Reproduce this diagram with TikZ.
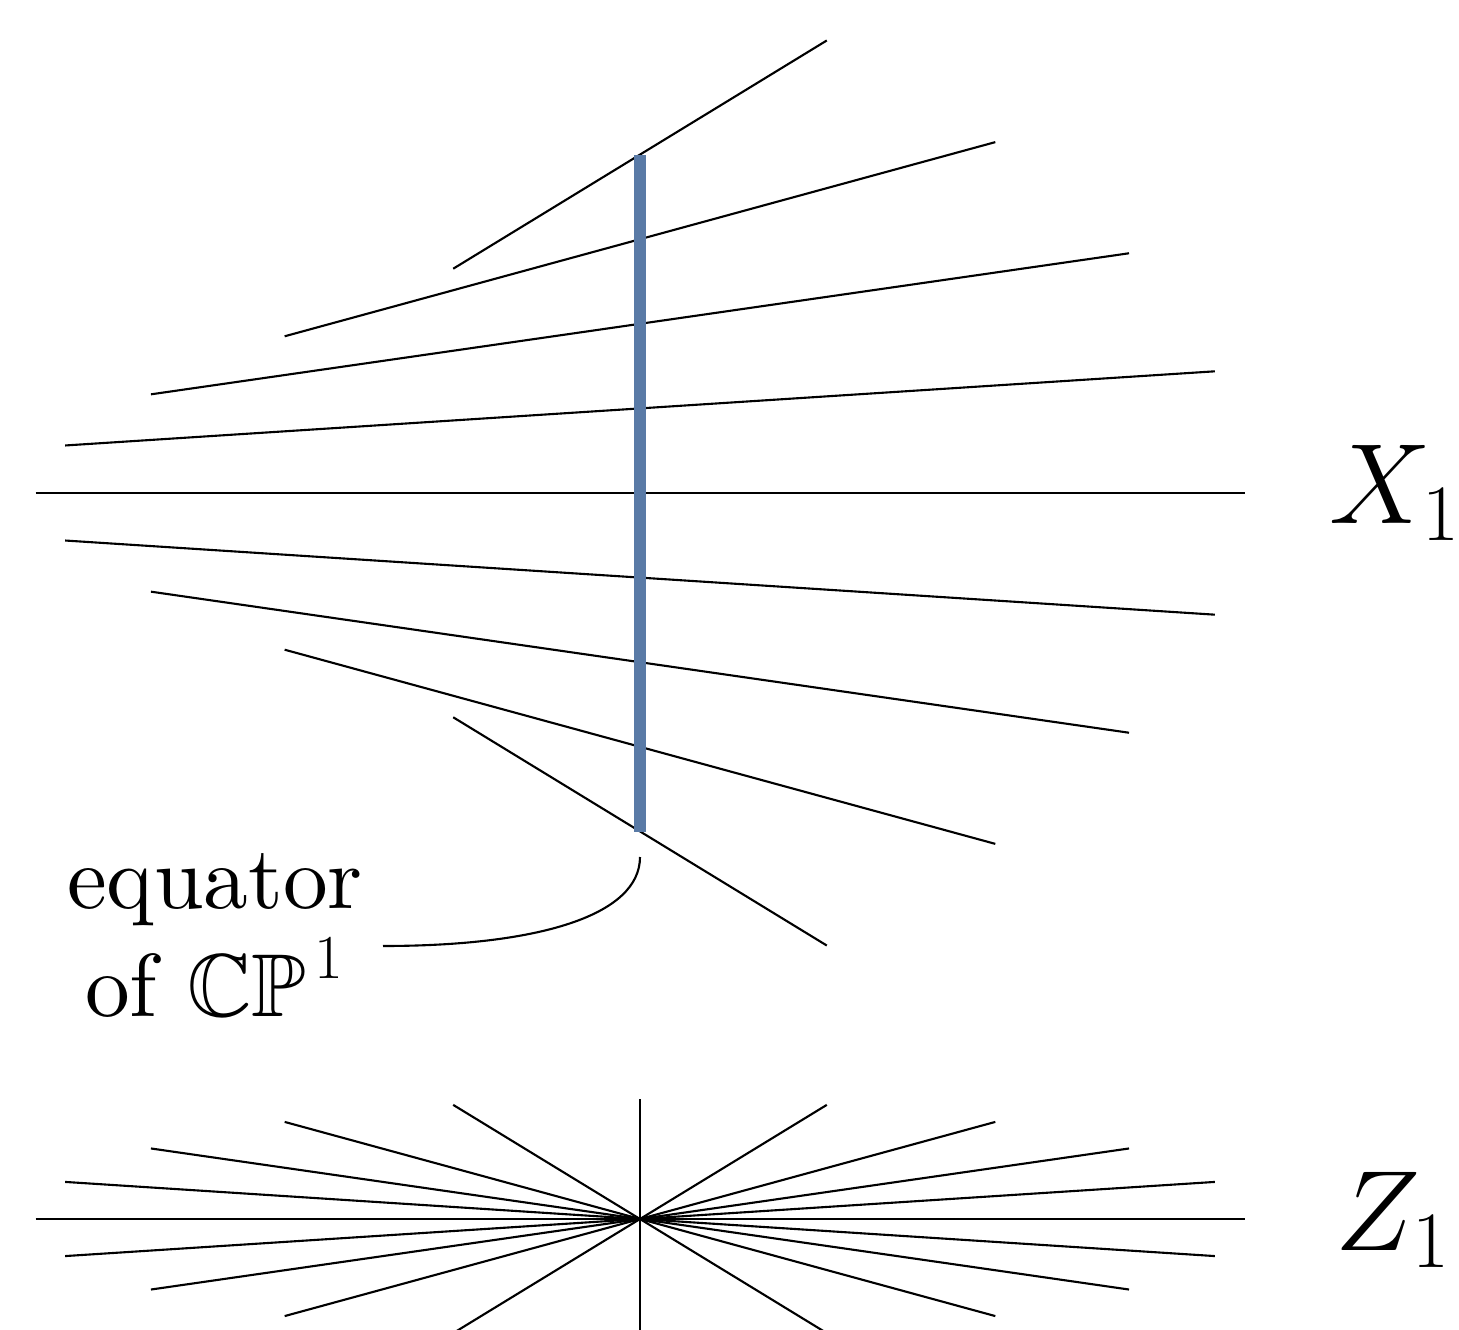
\documentclass[tikz,border=0pt]{standalone}
\usepackage{fix-cm}
\usepackage{amssymb}
\definecolor{eqblue}{RGB}{89,122,166}
\font\eqfont="[lmroman10-regular]" at 25.4pt
\begin{document}
\begin{tikzpicture}[x=0.01cm,y=-0.01cm,
  fib/.style={line width=0.6pt, black},
  eqbar/.style={line width=3.6pt, eqblue},
  lbl/.style={inner sep=0pt, anchor=base, font=\fontsize{25.4}{30.4}\selectfont\eqfont},
  sym/.style={inner sep=0pt, anchor=base west, font=\fontsize{32.5}{39}\selectfont}]
\useasboundingbox (0,0) rectangle (1459,1330);
\begin{scope}
\clip (0,0) rectangle (1459,1330);
% X_1: sheared family of fibres
\foreach \t in {-72,-54,...,72} {
  \draw[fib] ({640-604.5*cos(\t)},{493-4.7*\t+120*sin(\t)}) -- ({640+604.5*cos(\t)},{493-4.7*\t-120*sin(\t)});
}
\draw[eqbar] (640,155) -- (640,832);
% Z_1: all fibres through one point
\foreach \t in {0,18,...,162} {
  \draw[fib] ({640-604.5*cos(\t)},{1219+120*sin(\t)}) -- ({640+604.5*cos(\t)},{1219-120*sin(\t)});
}
\end{scope}
% label
\node[lbl] (lblA) at (215,908) {equator};
\node[lbl] (lblB) at (215,1016) {of $\mathbb{CP}^{\hspace{2.3pt}1}$};
\coordinate (eqtop) at (640,857);
\coordinate (eqend) at (383,946);
\draw[fib] (eqtop) .. controls (640,915) and (540,946) .. (eqend);
\node[sym] (X1) at (1329,523) {$X_1$};
\node[sym] (Z1) at (1335,1250) {$Z_1$};
\end{tikzpicture}
\end{document}
